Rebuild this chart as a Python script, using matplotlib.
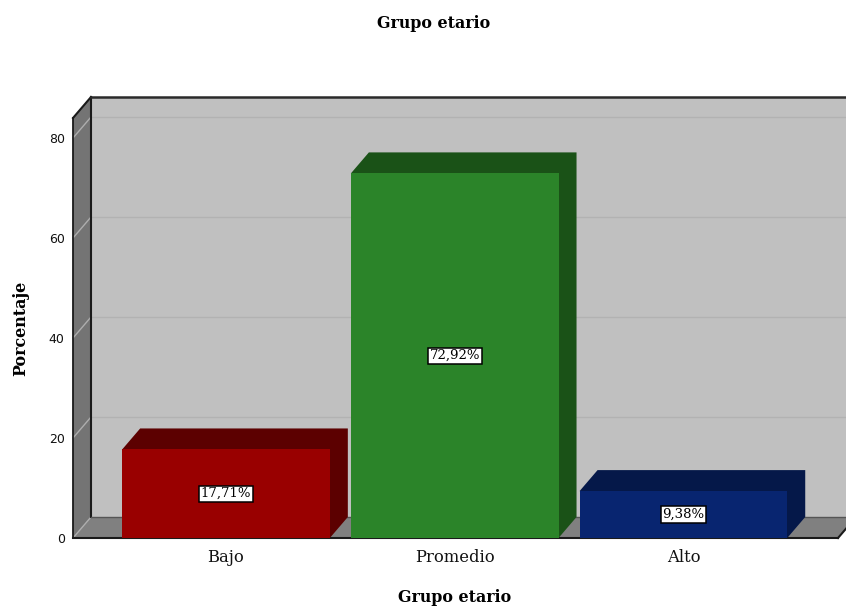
import matplotlib
matplotlib.use("Agg")
import matplotlib.pyplot as plt
from matplotlib.patches import Polygon

categories = ["Bajo", "Promedio", "Alto"]
percentages = [17.71, 72.92, 9.38]
value_labels = ["17,71%", "72,92%", "9,38%"]
y_ticks = [0, 20, 40, 60, 80]

front_colors = ["#990000", "#2b8429", "#082570"]
shade_colors = ["#5c0000", "#1a5217", "#051849"]

plt.rcParams["font.family"] = ["DejaVu Serif"]

W, H = 846, 607
fig = plt.figure(figsize=(W / 100, H / 100), dpi=100, facecolor="white")
# Front plane of the 3D box, in pixels
left, right, bottom, top = 73, 838, 538, 118
ax = fig.add_axes([left / W, 1 - bottom / H, (right - left) / W, (bottom - top) / H])
ax.patch.set_visible(False)

slot = 228.7
x0 = -(226 - left) / slot
x1 = x0 + (right - left) / slot
y_max = (bottom - top) / 5
ax.set_xlim(x0, x1)
ax.set_ylim(0, y_max)

dx = 18 / slot   # depth offset, category units
dy = 21 / 5      # depth offset, percentage units
bar_w = 0.908


def face(points, color, z):
    ax.add_patch(Polygon(points, closed=True, facecolor=color, edgecolor="none",
                         linewidth=0, zorder=z, clip_on=False))


def line(xs, ys, color, lw, z):
    ax.plot(xs, ys, color=color, lw=lw, zorder=z, clip_on=False,
            solid_capstyle="projecting")


# Back wall, left wall and floor
face([(x0 + dx, dy), (x1 + dx, dy), (x1 + dx, y_max + dy), (x0 + dx, y_max + dy)], "#c0c0c0", 1)
face([(x0, 0), (x0 + dx, dy), (x0 + dx, y_max + dy), (x0, y_max)], "#747474", 1)
face([(x0, 0), (x1, 0), (x1 + dx, dy), (x0 + dx, dy)], "#808080", 1)

# Gridlines run along the back wall and down the left wall
for t in y_ticks:
    if t > 0:
        line([x0 + dx, x1 + dx], [t + dy, t + dy], "#b2b2b2", 1.0, 2)
    line([x0, x0 + dx], [t, t + dy], "#adadad", 1.0, 2)

# Box outline
line([x0 + dx, x0 + dx], [dy, y_max + dy], "#1a1a1a", 1.5, 3)
line([x0, x0], [0, y_max], "#1a1a1a", 1.3, 3)
line([x0, x0 + dx], [y_max, y_max + dy], "#1a1a1a", 1.5, 3)
line([x0 + dx, x1 + dx], [y_max + dy, y_max + dy], "#2a2a2a", 1.8, 3)
line([x0 + dx, x1 + dx], [dy, dy], "#555555", 1.0, 3)
line([x0, x1], [0, 0], "#1a1a1a", 1.5, 3)
line([x1, x1 + dx], [0, dy], "#1a1a1a", 1.5, 3)

# Bars: front faces plus one extruded shape for the top and side
positions = list(range(len(categories)))
ax.bar(positions, percentages, width=bar_w, color=front_colors, zorder=6, linewidth=0)
for i, v in enumerate(percentages):
    l, r = i - bar_w / 2, i + bar_w / 2
    face([(l, v), (r, 0), (r + dx, dy), (r + dx, v + dy), (l + dx, v + dy)], shade_colors[i], 5)
    ax.text(i, v / 2, value_labels[i], ha="center", va="center", fontsize=9.5,
            color="black", zorder=8,
            bbox=dict(boxstyle="square,pad=0.12", facecolor="white",
                      edgecolor="black", linewidth=1.1))

for s in ax.spines.values():
    s.set_visible(False)
ax.set_xticks(positions, categories, fontsize=11.8, color="#111111")
ax.set_yticks(y_ticks)
ax.set_yticklabels(y_ticks, fontsize=9, color="#111111", family="DejaVu Sans")
ax.tick_params(axis="both", length=0)
ax.tick_params(axis="x", pad=8)
ax.tick_params(axis="y", pad=6)

fig.text(433.5 / W, 1 - 24 / H, "Grupo etario", ha="center", va="center",
         fontsize=11.4, fontweight="bold")
fig.text(455 / W, 1 - 598 / H, "Grupo etario", ha="center", va="center",
         fontsize=11.4, fontweight="bold")
fig.text(21 / W, 1 - 328 / H, "Porcentaje", ha="center", va="center",
         rotation=90, fontsize=11.4, fontweight="bold")

fig.savefig("out.png", dpi=100)
